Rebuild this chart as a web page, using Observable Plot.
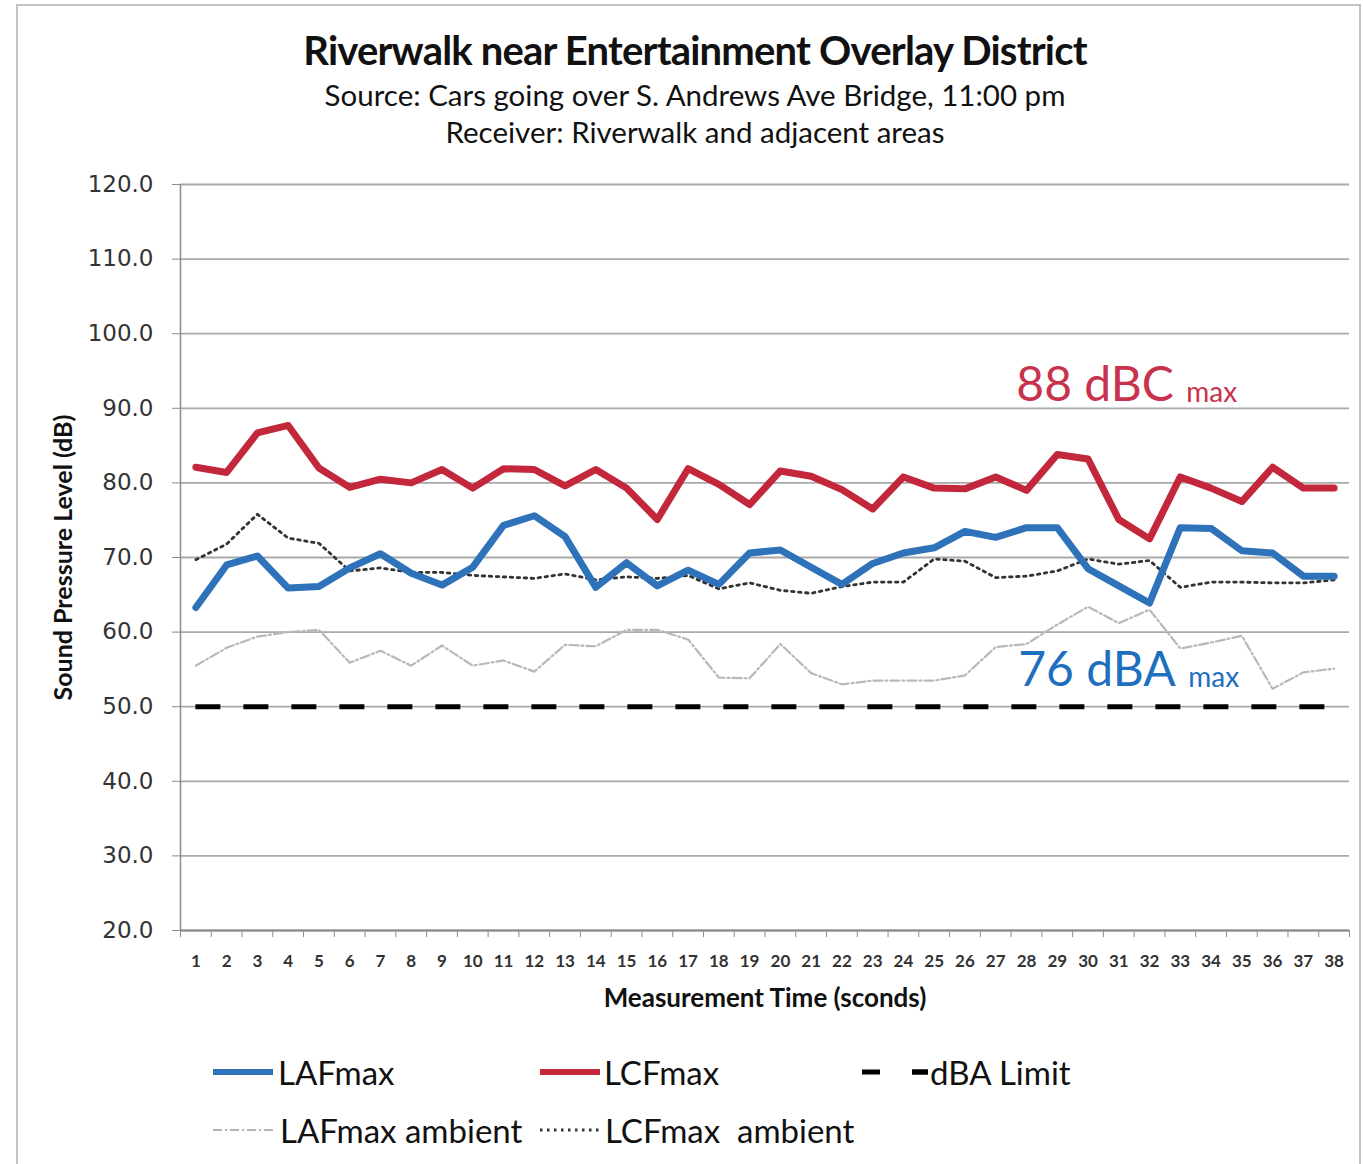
<!DOCTYPE html>
<html><head><meta charset="utf-8">
<script src="https://cdn.jsdelivr.net/npm/d3@7"></script>
<script src="https://cdn.jsdelivr.net/npm/@observablehq/plot@0.6"></script>
<style>
body{margin:0;background:#fff;width:1363px;height:1164px;overflow:hidden;position:relative;font-family:Lato,"Open Sans",sans-serif;}
#frame{position:absolute;left:16px;top:4px;width:1345px;height:1200px;border:2px solid #c4c4c4;box-sizing:border-box;}
.t{position:absolute;left:0;width:1390px;text-align:center;color:#111;white-space:nowrap;}
#title{top:28px;font-size:40px;line-height:44px;font-weight:700;letter-spacing:-0.8px;}
#sub1{top:78px;font-size:29.5px;line-height:34px;}
#sub2{top:115px;font-size:29.5px;line-height:34px;}
#chart{position:absolute;left:0;top:160px;}
.lg{position:absolute;font-size:33px;line-height:38px;color:#111;white-space:pre;}
#legsw{position:absolute;left:0;top:1040px;}
</style></head>
<body>
<div id="frame"></div>
<div class="t" id="title">Riverwalk near Entertainment Overlay District</div>
<div class="t" id="sub1">Source: Cars going over S. Andrews Ave Bridge, 11:00 pm</div>
<div class="t" id="sub2">Receiver: Riverwalk and adjacent areas</div>
<div id="chart"></div>
<svg id="legsw" width="1363" height="120"></svg>
<div id="legend"></div>
<script>
// ---- data ----
const seconds = [1,2,3,4,5,6,7,8,9,10,11,12,13,14,15,16,17,18,19,20,21,22,23,24,25,26,27,28,29,30,31,32,33,34,35,36,37,38];
const lafMax = [63.3,69.0,70.2,65.9,66.1,68.6,70.5,67.9,66.3,68.7,74.3,75.6,72.8,66.0,69.3,66.2,68.3,66.4,70.6,71.0,68.7,66.4,69.2,70.6,71.3,73.5,72.7,74.0,74.0,68.5,66.2,63.9,74.0,73.9,70.9,70.6,67.5,67.5];
const lcfMax = [82.1,81.4,86.7,87.7,82.0,79.4,80.5,80.0,81.8,79.3,81.9,81.8,79.6,81.8,79.3,75.1,81.9,79.8,77.1,81.6,80.9,79.1,76.5,80.8,79.3,79.2,80.8,79.0,83.8,83.2,75.1,72.5,80.8,79.3,77.5,82.1,79.3,79.3];
const lafAmbient = [55.5,57.9,59.4,60.0,60.3,55.9,57.5,55.5,58.2,55.5,56.2,54.7,58.3,58.1,60.3,60.3,59.0,53.9,53.8,58.4,54.5,53.0,53.5,53.5,53.5,54.2,58.0,58.4,61.0,63.4,61.2,63.0,57.8,58.6,59.5,52.4,54.6,55.1];
const lcfAmbient = [69.7,71.8,75.8,72.6,71.9,68.2,68.6,68.0,68.0,67.6,67.4,67.2,67.8,67.0,67.4,67.2,67.6,65.8,66.6,65.6,65.2,66.1,66.7,66.7,69.8,69.5,67.3,67.5,68.2,69.8,69.1,69.6,66.0,66.7,66.7,66.6,66.6,67.0];
const dbaLimit = 50;
const yTicks = [20,30,40,50,60,70,80,90,100,110,120];
const annX = [27.67, 27.73];
const annY = [93.1, 54.85];
const annLabel = ["88 dBC", "76 dBA"];
const annSub = ["max", "max"];
const annColor = ["#c8324c", "#1f6fbf"];

// ---- tables ----
const series = (vals) => seconds.map((s, i) => ({s, v: vals[i]}));
const ann = annLabel.map((l, i) => ({x: annX[i], y: annY[i], label: l, sub: annSub[i], color: annColor[i]}));
const halfTicks = seconds.map(d => d - 0.5).concat([seconds[seconds.length - 1] + 0.5]);

const BLUE = "#2e72b9", RED = "#c3273b", AXIS = "#8c8c8c";

const chart = Plot.plot({
  width: 1363, height: 860,
  marginLeft: 180, marginRight: 14, marginTop: 24, marginBottom: 90,
  style: {fontFamily: "Lato, sans-serif", background: "transparent", overflow: "visible"},
  x: {domain: [0.5, 38.5]},
  y: {domain: [20, 120]},
  marks: [
    Plot.gridY(yTicks, {stroke: "#a9a9a9", strokeOpacity: 1, strokeWidth: 1.8}),
    Plot.ruleX([0.5], {stroke: AXIS, strokeWidth: 1.5}),
    Plot.ruleY([20], {stroke: AXIS, strokeWidth: 1.8}),
    Plot.axisY({ticks: yTicks, tickFormat: d => d.toFixed(1), tickSize: 8, tickPadding: 19,
      fontSize: 23, fontFamily: "DejaVu Sans", fill: "#333", stroke: AXIS, label: null}),
    Plot.axisX({ticks: seconds, tickSize: 0, tickPadding: 24, fontSize: 17, fontWeight: 700,
      fill: "#333", label: null}),
    Plot.axisX({ticks: halfTicks, tickSize: 7, tickFormat: () => "", stroke: AXIS, label: null}),
    Plot.line(series(lafAmbient), {x: "s", y: "v", stroke: "#b8b8b8", strokeWidth: 2.2,
      strokeDasharray: "9,3,2,3"}),
    Plot.line(series(lcfAmbient), {x: "s", y: "v", stroke: "#333", strokeWidth: 2.8,
      strokeDasharray: "2.5,4.5"}),
    Plot.ruleY([dbaLimit], {x1: seconds[0], x2: seconds[seconds.length - 1], stroke: "#000",
      strokeWidth: 5, strokeDasharray: "25,23"}),
    Plot.line(series(lcfMax), {x: "s", y: "v", stroke: RED, strokeWidth: 7, strokeLinejoin: "round"}),
    Plot.line(series(lafMax), {x: "s", y: "v", stroke: BLUE, strokeWidth: 7, strokeLinejoin: "round"}),
    Plot.text(ann, {x: "x", y: "y", text: "label", fill: "color", fontSize: 48,
      textAnchor: "start", lineAnchor: "middle"}),
    Plot.text(ann, {x: "x", y: "y", text: "sub", fill: "color", fontSize: 28,
      textAnchor: "start", lineAnchor: "middle", dx: 170, dy: 8}),
    Plot.text(["Sound Pressure Level (dB)"], {frameAnchor: "left", rotate: -90, dx: -117,
      fontSize: 25, fontWeight: 700, fill: "#111", textAnchor: "middle", lineAnchor: "middle"}),
    Plot.text(["Measurement Time (sconds)"], {frameAnchor: "bottom", dy: 68,
      fontSize: 26, fontWeight: 700, fill: "#111", textAnchor: "middle", lineAnchor: "middle"})
  ]
});
document.getElementById("chart").appendChild(chart);

// ---- legend ----
const legItems = [
  {label: "LAFmax", tx: 278, ty: 1072, x1: 213, x2: 273, stroke: BLUE, w: 6, dash: null},
  {label: "LCFmax", tx: 604, ty: 1072, x1: 540, x2: 600, stroke: RED, w: 6, dash: null},
  {label: "dBA Limit", tx: 930, ty: 1072, x1: 862, x2: 928, stroke: "#000", w: 5, dash: "18,32"},
  {label: "LAFmax ambient", tx: 280, ty: 1130, x1: 213, x2: 273, stroke: "#b5b5b5", w: 2.2, dash: "9,3,2,3"},
  {label: "LCFmax  ambient", tx: 605, ty: 1130, x1: 540, x2: 600, stroke: "#333", w: 2.8, dash: "2.5,4.5"}
];
const sw = d3.select("#legsw");
const top0 = 1040;
legItems.forEach(d => {
  const ln = sw.append("line").attr("x1", d.x1).attr("x2", d.x2)
    .attr("y1", d.ty - top0).attr("y2", d.ty - top0)
    .attr("stroke", d.stroke).attr("stroke-width", d.w);
  if (d.dash) ln.attr("stroke-dasharray", d.dash);
  if (d.label === "dBA Limit") {
    sw.append("line").attr("x1", d.x1 + 50).attr("x2", d.x1 + 66)
      .attr("y1", d.ty - top0).attr("y2", d.ty - top0).attr("stroke", "#000").attr("stroke-width", d.w);
  }
  const el = document.createElement("div");
  el.className = "lg";
  el.textContent = d.label;
  el.style.left = d.tx + "px";
  el.style.top = (d.ty - 19) + "px";
  document.getElementById("legend").appendChild(el);
});
</script>
</body></html>
